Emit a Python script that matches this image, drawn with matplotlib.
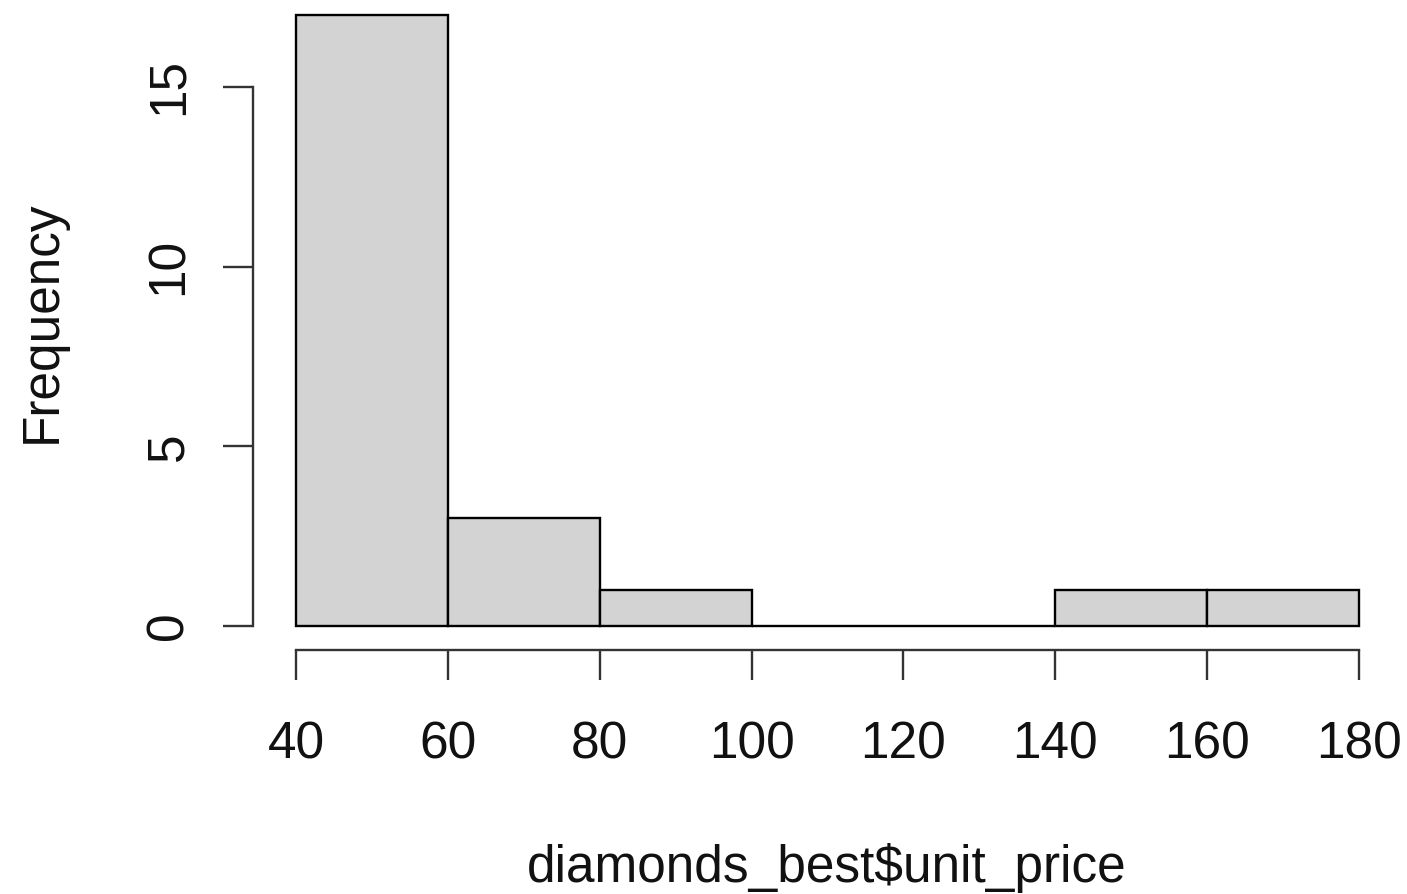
import matplotlib
matplotlib.use("Agg")
import matplotlib.pyplot as plt

plt.rcParams['font.family'] = ['Liberation Sans', 'DejaVu Sans']

# histogram of diamonds_best$unit_price
bin_edges = [40, 60, 80, 100, 120, 140, 160, 180]
counts = [17, 3, 1, 0, 0, 1, 1]
x_ticks = [40, 60, 80, 100, 120, 140, 160, 180]
y_ticks = [0, 5, 10, 15]

W, H = 1407, 894
fig = plt.figure(figsize=(W / 100, H / 100), dpi=100)
ax = fig.add_axes([296 / W, 268 / H, 1063 / W, 611 / H])
ax.set_xlim(40, 180)
ax.set_ylim(0, 17)

widths = [b - a for a, b in zip(bin_edges[:-1], bin_edges[1:])]
ax.bar(bin_edges[:-1], counts, width=widths, align='edge',
       color='#d3d3d3', edgecolor='black', linewidth=1.7, clip_on=False)

for s in ['top', 'right']:
    ax.spines[s].set_visible(False)
ax.spines['left'].set_position(('outward', 43 * 0.72))
ax.spines['bottom'].set_position(('outward', 24 * 0.72))
ax.spines['left'].set_bounds(0, 15)
ax.spines['bottom'].set_bounds(40, 180)
for s in ['left', 'bottom']:
    ax.spines[s].set_linewidth(1.7)
    ax.spines[s].set_color('#333333')

ax.set_xticks(x_ticks)
ax.set_yticks(y_ticks)
ax.set_yticklabels([str(v) for v in y_ticks], rotation=90, va='center')
ax.tick_params(axis='both', length=30 * 0.72, width=1.7, color='#333333',
               labelsize=37, labelcolor='#111111')
ax.tick_params(axis='x', pad=29)
ax.tick_params(axis='y', pad=21)

fig.text(42 / W, 1 - 322 / H, 'Frequency', rotation=90, ha='center',
         va='center', fontsize=37, color='#111111')
fig.text(827 / W, 1 - 868 / H, 'diamonds_best$unit_price', ha='center',
         va='center', fontsize=37, color='#111111')

fig.savefig('out.png', dpi=100)
